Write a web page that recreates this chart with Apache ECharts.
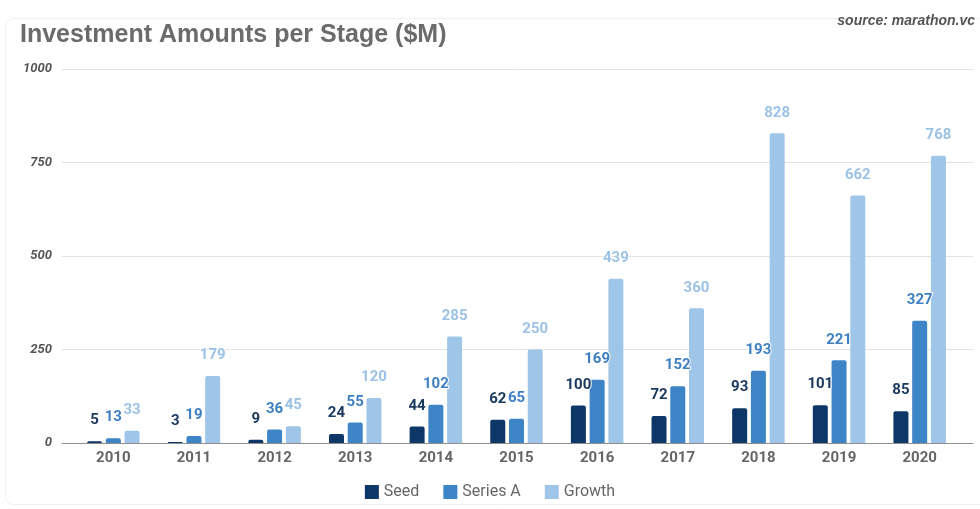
<!DOCTYPE html>
<html>
<head>
<meta charset="utf-8">
<title>Investment Amounts per Stage ($M)</title>
<script src="https://cdn.jsdelivr.net/npm/echarts@6/dist/echarts.min.js"></script>
<style>
  html, body { margin: 0; padding: 0; background: #ffffff; }
  #chart { width: 980px; height: 509px; }
</style>
</head>
<body>
<div id="chart"></div>
<script>
// Yearly investment amounts by stage, in $M
const years = ['2010', '2011', '2012', '2013', '2014', '2015', '2016', '2017', '2018', '2019', '2020'];
const seed = [5, 3, 9, 24, 44, 62, 100, 72, 93, 101, 85];
const seriesA = [13, 19, 36, 55, 102, 65, 169, 152, 193, 221, 327];
const growth = [33, 179, 45, 120, 285, 250, 439, 360, 828, 662, 768];
const yTicks = [0, 250, 500, 750, 1000];

const colors = { seed: '#0d3766', seriesA: '#3d85c6', growth: '#9fc5e8' };
const labelColors = { seed: '#1b3a60', seriesA: '#3f80c2', growth: '#9cc2e6' };

const chart = echarts.init(document.getElementById('chart'), null, { renderer: 'canvas' });

function barSeries(name, data, color, labelColor) {
  return {
    name: name,
    type: 'bar',
    xAxisIndex: 1,
    yAxisIndex: 1,
    data: data,
    barWidth: 15,
    barGap: '25%',
    itemStyle: { color: color, borderRadius: [2, 2, 0, 0] },
    label: {
      show: true,
      position: 'top',
      distance: 13,
      color: labelColor,
      fontFamily: 'Roboto',
      fontWeight: 'bold',
      fontSize: 15,
      textBorderColor: '#ffffff',
      textBorderWidth: 2
    },
    emphasis: { disabled: true }
  };
}

chart.setOption({
  animation: false,
  backgroundColor: '#ffffff',
  graphic: [
    {
      type: 'rect',
      shape: { x: 5.5, y: 18.5, width: 990, height: 486, r: 8 },
      style: { fill: 'none', stroke: '#f1f1f1', lineWidth: 1 },
      silent: true,
      z: -1
    }
  ],
  title: [
    {
      text: 'Investment Amounts per Stage ($M)',
      left: 15,
      top: 18,
      textStyle: { fontFamily: 'Liberation Sans', fontWeight: 'bold', fontSize: 25, color: '#6b6b6b' }
    },
    {
      text: 'source: marathon.vc',
      right: 0,
      top: 9,
      textStyle: { fontFamily: 'Liberation Sans', fontStyle: 'italic', fontWeight: 'bold', fontSize: 14, color: '#555555' }
    }
  ],
  legend: {
    bottom: 4,
    left: 'center',
    icon: 'rect',
    itemWidth: 14,
    itemHeight: 14,
    itemGap: 24,
    textStyle: { fontFamily: 'Roboto', fontSize: 16, color: '#666666' },
    data: ['Seed', 'Series A', 'Growth']
  },
  grid: [
    { left: 62, right: 7, top: 69, bottom: 66 },
    { left: 73, right: 20, top: 69, bottom: 66 }
  ],
  xAxis: [
    {
      type: 'category',
      gridIndex: 0,
      data: [''],
      axisLine: { show: true, lineStyle: { color: '#8f8f8f', width: 1 } },
      axisTick: { show: false },
      axisLabel: { show: false }
    },
    {
      type: 'category',
      gridIndex: 1,
      data: years,
      axisLine: { show: false },
      axisTick: { show: false },
      axisLabel: {
        margin: 8,
        fontFamily: 'Roboto',
        fontWeight: 'bold',
        fontSize: 15,
        color: '#666666'
      }
    }
  ],
  yAxis: [
    {
      type: 'value',
      gridIndex: 0,
      min: yTicks[0],
      max: yTicks[yTicks.length - 1],
      interval: 250,
      axisLine: { show: false },
      axisTick: { show: false },
      splitLine: { lineStyle: { color: '#e3e3e3', width: 1 } },
      axisLabel: {
        margin: 10,
        formatter: function (v) { return String(v); },
        fontFamily: 'Roboto',
        fontStyle: 'italic',
        fontWeight: 'bold',
        fontSize: 13,
        color: '#555555'
      }
    },
    {
      type: 'value',
      gridIndex: 1,
      min: yTicks[0],
      max: yTicks[yTicks.length - 1],
      interval: 250,
      show: false,
      splitLine: { show: false }
    }
  ],
  series: [
    barSeries('Seed', seed, colors.seed, labelColors.seed),
    barSeries('Series A', seriesA, colors.seriesA, labelColors.seriesA),
    barSeries('Growth', growth, colors.growth, labelColors.growth)
  ]
});
</script>
</body>
</html>
